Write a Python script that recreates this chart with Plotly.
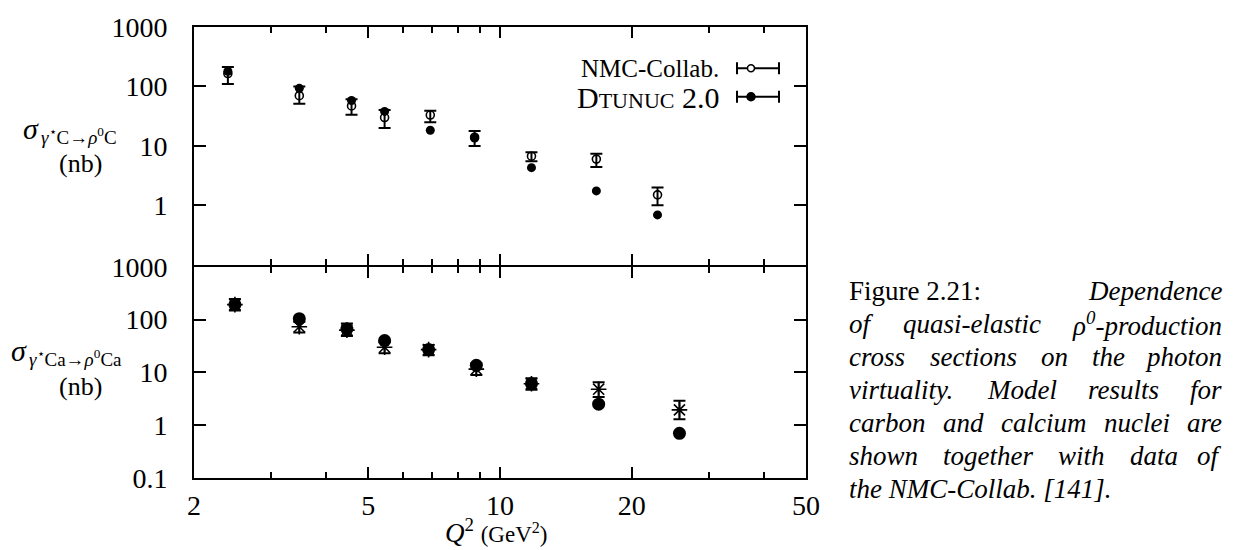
import math
import plotly.graph_objects as go

# ---- data: gamma* C -> rho0 C (upper panel) ----
q2_c = [2.39, 3.48, 4.58, 5.45, 6.93, 8.75, 11.8, 16.6, 22.9]
sig_c_nmc = [165, 70, 47, 30, 33, 14, 6.7, 6.0, 1.5]
sig_c_nmc_hi = [212, 100, 61, 40, 39, 17.8, 7.8, 7.4, 2.0]
sig_c_nmc_lo = [110, 51, 33.5, 20, 25, 10, 5.5, 4.4, 1.0]
sig_c_dtunuc = [180, 93, 58, 38, 18.3, 13.5, 4.3, 1.75, 0.69]

# ---- data: gamma* Ca -> rho0 Ca (lower panel) ----
q2_ca = [2.48, 3.48, 4.47, 5.45, 6.87, 8.83, 11.8, 16.8, 25.7]
sig_ca_nmc = [192, 73, 63, 30, 27, 11.5, 6.1, 4.8, 1.95]
sig_ca_nmc_hi = [245, 91, 84, 37, 33, 14.9, 7.7, 6.5, 2.9]
sig_ca_nmc_lo = [149, 57, 49, 23, 21, 8.9, 4.7, 3.4, 1.3]
sig_ca_dtunuc = [192, 104, 66, 40, 27, 13.6, 6.1, 2.5, 0.70]

# ---- axis ticks ----
x_tickvals = [2, 5, 10, 20, 50]
x_ticktext = ["2", "5", "10", "20", "50"]
x_minor = [3, 4, 6, 7, 8, 9, 30, 40]
y_top_vals = [1, 10, 100, 1000]
y_top_text = ["1", "10", "100", "1000"]
y_bot_vals = [0.1, 1, 10, 100, 1000]
y_bot_text = ["0.1", "1", "10", "100", "1000"]

FONT = "Liberation Serif"
W, H = 1234, 550
L, R, T, B = 194, 806, 19, 478   # plot frame in pixels
SPLIT = 262                       # boundary between the two panels


def px(x):
    return (x - L) / (R - L)


def py(y):
    return (B - y) / (B - T)


def errs(v, hi, lo):
    return [h - a for a, h in zip(v, hi)], [a - l for a, l in zip(v, lo)]


fig = go.Figure()

up, dn = errs(sig_c_nmc, sig_c_nmc_hi, sig_c_nmc_lo)
fig.add_trace(go.Scatter(
    x=q2_c, y=sig_c_nmc, mode="markers", xaxis="x2", yaxis="y2",
    marker=dict(symbol="circle-open", size=8, color="black", line=dict(width=1.6, color="black")),
    error_y=dict(type="data", array=up, arrayminus=dn, thickness=2, width=6, color="black"),
    showlegend=False))
fig.add_trace(go.Scatter(
    x=q2_c, y=sig_c_dtunuc, mode="markers", xaxis="x2", yaxis="y2",
    marker=dict(symbol="circle", size=9, color="black"),
    showlegend=False))

up, dn = errs(sig_ca_nmc, sig_ca_nmc_hi, sig_ca_nmc_lo)
fig.add_trace(go.Scatter(
    x=q2_ca, y=sig_ca_nmc, mode="markers", xaxis="x", yaxis="y",
    marker=dict(symbol="asterisk-open", size=13, color="black", line=dict(width=1.6, color="black")),
    error_y=dict(type="data", array=up, arrayminus=dn, thickness=2, width=6, color="black"),
    showlegend=False))
fig.add_trace(go.Scatter(
    x=q2_ca, y=sig_ca_dtunuc, mode="markers", xaxis="x", yaxis="y",
    marker=dict(symbol="circle", size=13, color="black"),
    showlegend=False))

# the two panels leave a 2 px strip between them so their edge lines merge into one
bot_top = (B - SPLIT - 1) / (B - T)
top_bot = (B - SPLIT + 1) / (B - T)
tickfont = dict(family=FONT, size=28, color="black")
common_x = dict(
    type="log", range=[math.log10(2), math.log10(50)],
    tickvals=x_tickvals, ticktext=x_ticktext,
    ticks="inside", ticklen=11, tickwidth=2, tickcolor="black",
    minor=dict(tickvals=x_minor, ticks="inside", ticklen=6, tickwidth=2, tickcolor="black"),
    showline=True, linewidth=2, linecolor="black", mirror="allticks",
    showgrid=False, zeroline=False, tickfont=tickfont, ticklabelstandoff=1)
common_y = dict(
    type="log", range=[-1, 3],
    ticks="inside", ticklen=12, tickwidth=2, tickcolor="black",
    showline=True, linewidth=2, linecolor="black", mirror="allticks",
    showgrid=False, zeroline=False, tickfont=tickfont, ticklabelstandoff=19)

fig.update_layout(
    width=W, height=H, autosize=False,
    margin=dict(l=L, r=W - R, t=T, b=H - B, pad=0),
    paper_bgcolor="white", plot_bgcolor="white",
    xaxis=dict(anchor="y", domain=[0, 1], **common_x),
    xaxis2=dict(anchor="y2", domain=[0, 1], matches="x", showticklabels=False, **common_x),
    yaxis=dict(anchor="x", domain=[0, bot_top], tickvals=y_bot_vals, ticktext=y_bot_text, **common_y),
    yaxis2=dict(anchor="x2", domain=[top_bot, 1], tickvals=y_top_vals, ticktext=y_top_text, **common_y),
)

ann = []


def text(x, y, s, size=28, anchor="center", italic=False):
    ann.append(dict(
        x=px(x), y=py(y), xref="paper", yref="paper", text=s, showarrow=False,
        xanchor=anchor, yanchor="middle", borderpad=0,
        font=dict(family=FONT, size=size, color="black", style="italic" if italic else "normal")))


# axis titles
text(496, 532, "<i>Q</i><sup>2</sup> <span style='font-size:23px'>(GeV<sup>2</sup>)</span>", size=27)
text(22, 122, "<i>σ</i>", size=30, anchor="left")
text(40, 130, "<i>γ</i><sup>⋆</sup>C→<i>ρ</i><sup>0</sup>C", size=19, anchor="left")
text(80, 158, "(nb)", size=26)
text(10, 348, "<i>σ</i>", size=30, anchor="left")
text(28, 356, "<i>γ</i><sup>⋆</sup>Ca→<i>ρ</i><sup>0</sup>Ca", size=19, anchor="left")
text(80, 385, "(nb)", size=26)

# legend block in the upper panel
text(720, 61, "NMC-Collab.", size=25, anchor="right")
text(720, 91, "D<span style='font-size:22px'>TUNUC</span> 2.0", size=30, anchor="right")
shapes = []
for yy, filled, r in [(61, False, 3.5), (90, True, 4)]:
    shapes.append(dict(type="line", xref="paper", yref="paper", x0=px(737), x1=px(779),
                       y0=py(yy), y1=py(yy), line=dict(color="black", width=2)))
    for xx in (737, 779):
        shapes.append(dict(type="line", xref="paper", yref="paper", x0=px(xx), x1=px(xx),
                           y0=py(yy - 6), y1=py(yy + 6), line=dict(color="black", width=2)))
    shapes.append(dict(type="circle", xref="paper", yref="paper",
                       xsizemode="pixel", ysizemode="pixel",
                       xanchor=px(751), yanchor=py(yy), x0=-r, x1=r, y0=-r, y1=r,
                       fillcolor="black" if filled else "white",
                       line=dict(color="black", width=1.5)))

# caption, justified line by line
CAP_L, CAP_R, CAP_SIZE = 848, 1223, 27
ital_w = {c: 500 for c in "abdghnopqu"}
ital_w.update({"c": 444, "e": 444, "k": 444, "v": 444, "x": 444, "y": 444, "f": 278, "i": 278,
               "j": 278, "l": 278, "t": 278, "m": 722, "r": 389, "s": 389, "w": 667, "z": 389,
               ".": 250, ",": 250, "-": 333, "[": 389, "]": 389, "N": 667, "M": 833, "C": 667,
               "ρ": 520, "0": 350, "1": 500, "4": 500})


def width(word):
    return sum(ital_w.get(c, 500) for c in word) * CAP_SIZE / 1000


cap_lines = [
    ["of", "quasi-elastic", "ρ0-production"],
    ["cross", "sections", "on", "the", "photon"],
    ["virtuality.", "Model", "results", "for"],
    ["carbon", "and", "calcium", "nuclei", "are"],
    ["shown", "together", "with", "data", "of"],
]
y0, dy = 288, 33.5
text(CAP_L, y0, "Figure 2.21:", size=CAP_SIZE, anchor="left")
text(CAP_R, y0, "<i>Dependence</i>", size=CAP_SIZE, anchor="right")
for i, words in enumerate(cap_lines):
    yy = y0 + (i + 1) * dy
    ws = [width(w) for w in words]
    gap = (CAP_R - CAP_L - sum(ws)) / (len(words) - 1)
    x = CAP_L
    for j, w in enumerate(words):
        label = w.replace("ρ0", "ρ<sup>0</sup>")
        if j == len(words) - 1:
            text(CAP_R, yy, "<i>" + label + "</i>", size=CAP_SIZE, anchor="right")
        else:
            text(x, yy, "<i>" + label + "</i>", size=CAP_SIZE, anchor="left")
        x += ws[j] + gap
text(CAP_L, y0 + 6 * dy, "<i>the NMC-Collab. [141].</i>", size=CAP_SIZE, anchor="left")

fig.update_layout(annotations=ann, shapes=shapes)
fig.write_html("out.html")
